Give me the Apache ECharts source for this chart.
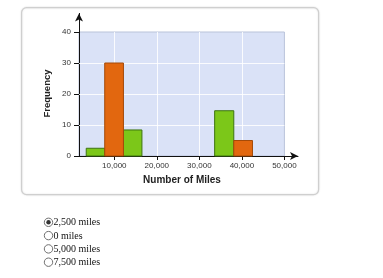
<!DOCTYPE html>
<html>
<head>
<meta charset="utf-8">
<script src="https://cdn.jsdelivr.net/npm/echarts@6/dist/echarts.min.js"></script>
<style>
html,body{margin:0;padding:0;background:#fff;}
#chart{width:383px;height:278px;}
</style>
</head>
<body>
<div id="chart"></div>
<script>
// ---- data ----
const xTicks = [10000, 20000, 30000, 40000, 50000];
const yTicks = [0, 10, 20, 30, 40];
const greenStart = [3400, 12150, 33600];
const greenEnd = [7750, 16500, 38100];
const greenFreq = [2.5, 8.4, 14.6];
const orangeStart = [7750, 38100];
const orangeEnd = [12150, 42500];
const orangeFreq = [30, 5];
const choices = ['2,500 miles', '0 miles', '5,000 miles', '7,500 miles'];
const selectedChoice = 0;
const xTitle = 'Number of Miles';
const yTitle = 'Frequency';

const X_MIN = 1700, X_MAX = 53200, PLOT_X_MAX = 50000;
const Y_MAX = 46, PLOT_Y_MAX = 40;

function zip(s, e, v) { return s.map((a, i) => [a, e[i], v[i]]); }

function barRender(fill, stroke) {
  return function (params, api) {
    const p0 = api.coord([api.value(0), api.value(2)]);
    const p1 = api.coord([api.value(1), 0]);
    return {
      type: 'rect',
      shape: { x: p0[0], y: p0[1], width: p1[0] - p0[0], height: p1[1] - p0[1] },
      style: { fill: fill, stroke: stroke, lineWidth: 1 }
    };
  };
}

const gridLineData = [];
xTicks.slice(0, -1).forEach(v => gridLineData.push([{ coord: [v, 0] }, { coord: [v, PLOT_Y_MAX] }]));
yTicks.slice(1, -1).forEach(v => gridLineData.push([{ coord: [X_MIN, v] }, { coord: [PLOT_X_MAX, v] }]));

const fmt = v => v.toLocaleString('en-US');

const graphics = [
  { type: 'rect', left: 21, top: 7, shape: { width: 297, height: 187, r: 5 },
    style: { fill: '#fff', stroke: '#cfcfcf', lineWidth: 1.2, shadowBlur: 2, shadowColor: 'rgba(0,0,0,0.12)' }, z: -10 },
  { type: 'text', x: 47, y: 93.5, rotation: Math.PI / 2,
    style: { text: yTitle, font: 'bold 9.5px Arial, "Liberation Sans"', fill: '#222', align: 'center', verticalAlign: 'middle' }, z: 10 },
  { type: 'text', x: 182, y: 180.5,
    style: { text: xTitle, font: 'bold 10px Arial, "Liberation Sans"', fill: '#222', align: 'center', verticalAlign: 'middle' }, z: 10 }
];
choices.forEach((c, i) => {
  const cy = 222.3 + 13.3 * i;
  graphics.push({ type: 'circle', shape: { cx: 48.5, cy: cy, r: 4.2 },
    style: { fill: '#fff', stroke: '#6e6e6e', lineWidth: 1 }, z: 10 });
  if (i === selectedChoice) {
    graphics.push({ type: 'circle', shape: { cx: 48.5, cy: cy, r: 2.2 },
      style: { fill: '#333' }, z: 11 });
  }
  graphics.push({ type: 'text', x: 53.5, y: cy + 0.5,
    style: { text: c, font: '10px "Liberation Serif", "Times New Roman", serif', fill: '#111', verticalAlign: 'middle' }, z: 10 });
});

const chart = echarts.init(document.getElementById('chart'), null, { renderer: 'canvas' });
chart.setOption({
  animation: false,
  grid: { left: 79, top: 13.4, right: 383 - 298, bottom: 278 - 156, containLabel: false },
  xAxis: {
    type: 'value', min: X_MIN, max: X_MAX,
    axisLine: { show: true, lineStyle: { color: '#111', width: 1 }, symbol: ['none', 'arrow'], symbolSize: [6, 8] },
    axisTick: { show: true, customValues: xTicks, length: 4, lineStyle: { color: '#111' } },
    axisLabel: { customValues: xTicks, formatter: fmt, fontSize: 8, color: '#333', margin: 6, fontFamily: 'Arial, "Liberation Sans"' },
    splitLine: { show: false }
  },
  yAxis: {
    type: 'value', min: 0, max: Y_MAX,
    axisLine: { show: true, lineStyle: { color: '#111', width: 1 }, symbol: ['none', 'arrow'], symbolSize: [6, 8] },
    axisTick: { show: true, customValues: yTicks, length: 5, lineStyle: { color: '#111' } },
    axisLabel: { customValues: yTicks, fontSize: 8, color: '#333', margin: 8, fontFamily: 'Arial, "Liberation Sans"' },
    splitLine: { show: false }
  },
  graphic: graphics,
  series: [
    {
      type: 'line', data: [], z: 1, silent: true,
      markArea: {
        silent: true, z: 0,
        itemStyle: { color: '#dae2f7', borderColor: '#b9c3da', borderWidth: 1 },
        data: [[{ coord: [X_MIN, 0] }, { coord: [PLOT_X_MAX, PLOT_Y_MAX] }]]
      },
      markLine: {
        silent: true, z: 1, symbol: 'none', label: { show: false },
        lineStyle: { color: '#ffffff', width: 1, type: 'solid', opacity: 0.85 },
        data: gridLineData
      }
    },
    { type: 'custom', name: 'green', z: 3, data: zip(greenStart, greenEnd, greenFreq),
      renderItem: barRender('#7cc719', '#3d7410'), encode: { x: [0, 1], y: 2 } },
    { type: 'custom', name: 'orange', z: 3, data: zip(orangeStart, orangeEnd, orangeFreq),
      renderItem: barRender('#e2670f', '#a54a08'), encode: { x: [0, 1], y: 2 } }
  ]
});
</script>
</body>
</html>
